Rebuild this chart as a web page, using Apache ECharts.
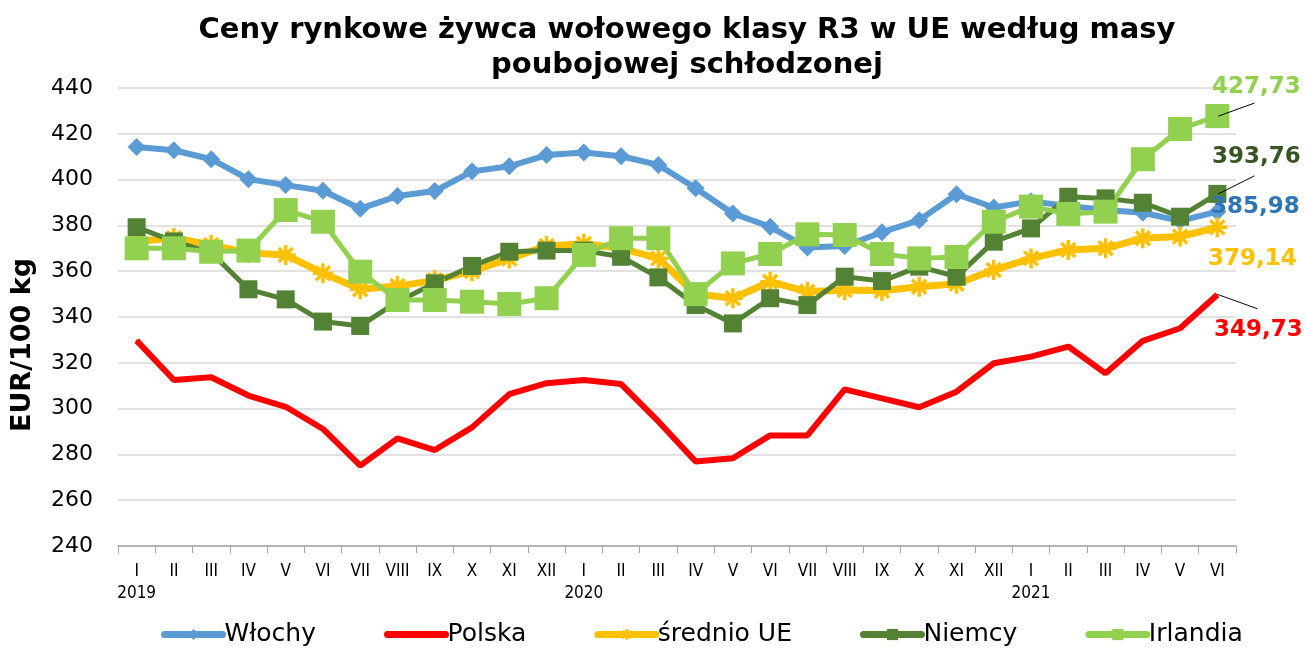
<!DOCTYPE html>
<html><head><meta charset="utf-8">
<script src="https://cdn.jsdelivr.net/npm/echarts@6/dist/echarts.min.js"></script>
<style>html,body{margin:0;padding:0;background:#fff}#c{width:1306px;height:648px}</style>
</head><body><div id="c"></div>
<script>
const categories = ['I\n2019','II','III','IV','V','VI','VII','VIII','IX','X','XI','XII',
  'I\n2020','II','III','IV','V','VI','VII','VIII','IX','X','XI','XII',
  'I\n2021','II','III','IV','V','VI'];
const wlochy = [414.2,412.8,408.9,400.2,397.6,395.1,387.3,392.8,395.0,403.6,405.8,410.7,411.8,410.2,406.4,396.2,385.2,379.4,370.3,371.0,377.0,382.3,393.6,387.8,390.5,388.5,386.7,385.5,382.0,385.98];
const polska = [329.7,312.5,313.7,305.7,300.8,291.1,275.1,287.0,281.9,291.8,306.3,311.1,312.5,310.7,294.4,276.9,278.3,288.3,288.3,308.4,304.5,300.6,307.4,319.8,322.7,327.1,315.4,329.6,335.1,349.73];
const srednioUE = [373.0,374.5,371.5,368.0,367.1,359.1,352.1,353.5,356.0,360.0,365.5,371.0,372.0,370.0,365.6,350.0,348.2,355.4,351.0,351.8,351.5,353.2,354.5,360.5,365.6,369.3,370.0,374.4,375.1,379.14];
const niemcy = [379.2,373.0,368.1,352.1,347.7,338.0,336.1,346.7,354.7,362.3,368.5,369.0,369.0,366.3,357.3,345.2,337.2,348.2,345.2,357.6,355.7,362.0,357.6,372.9,378.7,392.5,391.8,389.9,383.8,393.76];
const irlandia = [370.0,370.0,368.5,369.0,386.7,381.6,359.8,347.4,347.4,346.7,345.7,348.2,367.1,374.4,374.4,350.0,363.4,367.5,376.1,375.8,367.5,365.6,366.2,381.6,388.2,385.0,386.0,408.9,422.1,427.73];
const seriesNames = ['Włochy','Polska','średnio UE','Niemcy','Irlandia'];

const chart = echarts.init(document.getElementById('c'), null, {renderer:'canvas'});
const fmt = v => v.toFixed(2).replace('.', ',');
function withEndLabel(arr, color) {
  return arr.map((v, i) => {
    if (i !== arr.length - 1) return v;
    return {
      value: v,
      label: {show: true, position: 'inside', formatter: () => fmt(v), color: color,
        fontFamily: 'DejaVu Sans', fontWeight: 'bold', fontSize: 23}
    };
  });
}
// label offsets from the last point (dx, dy) and leader-line end offsets
const shifts = {
  'Włochy': [38, -5], 'Polska': [41, 35], 'średnio UE': [35, 32], 'Niemcy': [39, -37], 'Irlandia': [39, -29]
};
const leaders = {'Polska': [40, 14], 'Niemcy': [37, -18], 'Irlandia': [37, -13]};
function layoutFor(name) {
  return function () { const s = shifts[name]; return {dx: s[0], dy: s[1]}; };
}
const asterisk = 'path://M10 0 L10 20 M0 10 L20 10 M3 3 L17 17 M17 3 L3 17';

chart.setOption({
  animation: false,
  backgroundColor: '#fff',
  title: {
    text: 'Ceny rynkowe żywca wołowego klasy R3 w UE według masy\npoubojowej schłodzonej',
    left: 682, top: 8, textAlign: 'center',
    textStyle: {fontFamily: 'DejaVu Sans', fontWeight: 'bold', fontSize: 29, color: '#000', lineHeight: 35}
  },
  grid: {left: 118, right: 70, top: 88, bottom: 102, containLabel: false},
  legend: {
    top: 617, left: 156, itemWidth: 58, itemHeight: 14, itemGap: 68,
    lineStyle: {width: 7, cap: 'round'},
    textStyle: {fontFamily: 'DejaVu Sans', fontSize: 25, color: '#000', padding: [0, 0, 0, -3]},
    data: [{name: 'Włochy'}, {name: 'Polska', itemStyle: {opacity: 0}}, {name: 'średnio UE'}, {name: 'Niemcy'}, {name: 'Irlandia'}]
  },
  xAxis: {
    type: 'category', data: categories, boundaryGap: true,
    axisLine: {lineStyle: {color: '#a6a6a6', width: 1.5}},
    axisTick: {show: true, interval: 0, length: 7, lineStyle: {color: '#a6a6a6'}},
    axisLabel: {interval: 0, margin: 15, color: '#000', fontFamily: 'DejaVu Sans Condensed, Liberation Sans Narrow, sans-serif', fontSize: 17, lineHeight: 22}
  },
  yAxis: {
    type: 'value', min: 240, max: 440, interval: 20,
    name: 'EUR/100 kg', nameLocation: 'middle', nameGap: 82,
    nameTextStyle: {fontFamily: 'DejaVu Sans', fontWeight: 'bold', fontSize: 27, color: '#000', padding: [0, 56, 0, 0]},
    axisLine: {show: false}, axisTick: {show: false},
    axisLabel: {margin: 25, color: '#000', fontFamily: 'DejaVu Sans', fontSize: 22},
    splitLine: {lineStyle: {color: '#d9d9d9', width: 1.5}}
  },
  series: [
    {name: 'Włochy', type: 'line', data: withEndLabel(wlochy, '#2E75B6'),
     symbol: 'diamond', symbolSize: 18, lineStyle: {color: '#5B9BD5', width: 6},
     itemStyle: {color: '#5B9BD5'}, labelLayout: layoutFor('Włochy')},
    {name: 'Polska', type: 'line', data: withEndLabel(polska, '#FF0000'),
     symbol: 'circle', symbolSize: 2, showSymbol: true, lineStyle: {color: '#FF0000', width: 6},
     itemStyle: {color: '#FF0000'}, labelLayout: layoutFor('Polska')},
    {name: 'średnio UE', type: 'line', data: withEndLabel(srednioUE, '#FFC000'),
     symbol: asterisk, symbolSize: 20, lineStyle: {color: '#FFC000', width: 7},
     itemStyle: {color: '#FFC000', borderColor: '#FFC000', borderWidth: 3.5}, labelLayout: layoutFor('średnio UE')},
    {name: 'Niemcy', type: 'line', data: withEndLabel(niemcy, '#375623'),
     symbol: 'rect', symbolSize: 18, lineStyle: {color: '#548235', width: 5},
     itemStyle: {color: '#548235'}, labelLayout: layoutFor('Niemcy')},
    {name: 'Irlandia', type: 'line', data: withEndLabel(irlandia, '#92D050'),
     symbol: 'rect', symbolSize: 24, lineStyle: {color: '#92D050', width: 5},
     itemStyle: {color: '#92D050'}, labelLayout: layoutFor('Irlandia')}
  ]
});

// leader lines from the last data point (through the chart's own scales) toward the labels
const seriesData = {'Polska': [1, polska], 'Niemcy': [3, niemcy], 'Irlandia': [4, irlandia]};
const graphics = [];
Object.keys(leaders).forEach(name => {
  const [si, arr] = seriesData[name];
  const last = arr.length - 1;
  const p = chart.convertToPixel({seriesIndex: si}, [last, arr[last]]);
  const d = leaders[name];
  graphics.push({type: 'line', z: 100, shape: {x1: p[0] + 1, y1: p[1], x2: p[0] + d[0], y2: p[1] + d[1]},
    style: {stroke: '#000', lineWidth: 1}});
});
chart.setOption({graphic: graphics});
</script>
</body></html>
